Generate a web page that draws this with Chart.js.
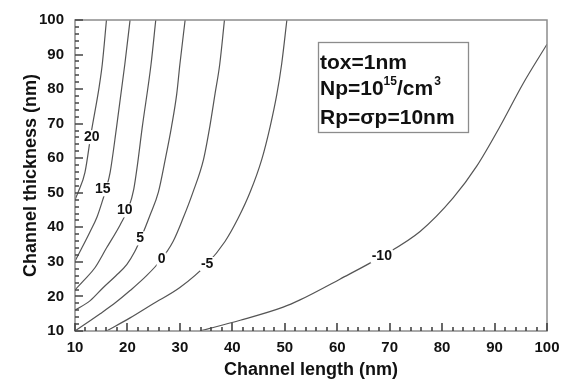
<!DOCTYPE html>
<html>
<head>
<meta charset="utf-8">
<script src="https://cdn.jsdelivr.net/npm/chart.js@4.4.1/dist/chart.umd.min.js"></script>
<style>
  html, body { margin: 0; padding: 0; background: #fff; }
  #wrap { width: 570px; height: 385px; }
</style>
</head>
<body>
<div id="wrap"><canvas id="chart" width="570" height="385"></canvas></div>
<script>
  // axis ticks
  const xTickValues = [10, 20, 30, 40, 50, 60, 70, 80, 90, 100];
  const yTickValues = [10, 20, 30, 40, 50, 60, 70, 80, 90, 100];

  // contour lines, [channel length, channel thickness]
  const contour20 = [[10, 48], [10.6, 50.2], [11.9, 55.9], [13.1, 67.5], [14.6, 80.6], [15.2, 87.2], [16.0, 100]];
  const contour15 = [[10, 30.2], [11.3, 34], [12.8, 38.5], [14.2, 43], [15.3, 48], [16.0, 51.5], [16.7, 55.9], [17.9, 68.7], [19.5, 87.2], [20.5, 100]];
  const contour10 = [[10, 21.9], [11.6, 24.5], [13.8, 28.3], [16.0, 34], [18.6, 40.7], [20.3, 46], [21.2, 51], [21.9, 58], [22.8, 68.7], [24.5, 87.2], [25.4, 100]];
  const contour5 = [[10, 16], [12.9, 18.8], [15.4, 22.6], [17.8, 26], [19.9, 29.3], [21.4, 33], [22.6, 37], [24.3, 43.5], [25.9, 50.2], [27.2, 59.6], [28.4, 69.1], [29.4, 78.6], [30.0, 87.2], [31.0, 100]];
  const contour0 = [[10, 10], [14.8, 15], [17.8, 18.3], [20.5, 21.7], [23.5, 25.8], [26.3, 30.4], [28.7, 35.9], [30.6, 42.6], [32.5, 50.2], [34.5, 59.6], [35.7, 69.1], [36.7, 78.6], [37.6, 87.2], [38.5, 100]];
  const contourM5 = [[16, 10], [20.5, 13.8], [24.9, 17.9], [30, 22.6], [35.1, 29.3], [38.6, 35.9], [41.1, 42.6], [43.4, 50.2], [45.6, 59.6], [47.2, 69.1], [48.5, 78.6], [49.4, 87.2], [50.4, 100]];
  const contourM10 = [[33.8, 10], [41.5, 13.1], [49.7, 16.9], [52.9, 19.0], [60.5, 25.0], [68.5, 31.6], [75.8, 38.8], [82.1, 48.5], [86.6, 57.7], [91.0, 69.1], [95.4, 81.5], [100, 93]];

  // contour level labels and where they sit on the lines
  const levelNames = ['20', '15', '10', '5', '0', '-5', '-10'];
  const levelLabelX = [13.2, 15.3, 19.5, 22.4, 26.5, 35.2, 68.5];
  const levelLabelY = [66.1, 51.0, 44.9, 36.8, 30.7, 29.4, 31.6];

  const contours = [contour20, contour15, contour10, contour5, contour0, contourM5, contourM10];

  const FONT = '"Liberation Sans", Arial, sans-serif';
  const LINE = '#555555';
  const FRAME = '#8c8c8c';

  // frame + inward tick marks (left and bottom only)
  const framePlugin = {
    id: 'frame',
    afterDraw(chart) {
      const { ctx, chartArea: a } = chart;
      const xs = chart.scales.x, ys = chart.scales.y;
      ctx.save();
      ctx.strokeStyle = FRAME;
      ctx.lineWidth = 1.5;
      ctx.strokeRect(a.left, a.top, a.right - a.left, a.bottom - a.top);
      ctx.strokeStyle = '#444444';
      ctx.lineWidth = 1.6;
      for (let v = 10; v <= 100; v += 2) {
        const len = v % 10 === 0 ? 8 : 4;
        const px = Math.round(xs.getPixelForValue(v));
        const py = Math.round(ys.getPixelForValue(v));
        ctx.beginPath();
        ctx.moveTo(px, a.bottom);
        ctx.lineTo(px, a.bottom - len);
        ctx.moveTo(a.left, py);
        ctx.lineTo(a.left + len, py);
        ctx.stroke();
      }
      ctx.restore();
    }
  };

  // level numbers written on the contour lines
  const levelLabelPlugin = {
    id: 'levelLabels',
    afterDatasetsDraw(chart) {
      const { ctx, scales } = chart;
      ctx.save();
      ctx.font = 'bold 14px ' + FONT;
      ctx.textAlign = 'center';
      ctx.textBaseline = 'middle';
      levelNames.forEach((name, i) => {
        const px = scales.x.getPixelForValue(levelLabelX[i]);
        const py = scales.y.getPixelForValue(levelLabelY[i]);
        const w = ctx.measureText(name).width;
        ctx.fillStyle = '#fff';
        ctx.fillRect(px - w / 2 - 1, py - 7, w + 2, 14);
        ctx.fillStyle = '#111';
        ctx.fillText(name, px, py);
      });
      ctx.restore();
    }
  };

  // parameter box in the upper right
  const infoBoxPlugin = {
    id: 'infoBox',
    afterDraw(chart) {
      const { ctx, chartArea: a } = chart;
      const bx = a.left + 243, by = a.top + 22, bw = 150, bh = 90;
      ctx.save();
      ctx.fillStyle = '#fff';
      ctx.fillRect(bx, by, bw, bh);
      ctx.strokeStyle = FRAME;
      ctx.lineWidth = 1.3;
      ctx.strokeRect(bx + 0.5, by + 0.5, bw, bh);
      ctx.fillStyle = '#111';
      ctx.textBaseline = 'alphabetic';
      ctx.textAlign = 'left';
      const big = 'bold 21px ' + FONT;
      const small = 'bold 12px ' + FONT;
      const tx = bx + 2;
      ctx.font = big;
      ctx.fillText('tox=1nm', tx, by + 27);
      // Np line with superscripts
      let x = tx;
      const y2 = by + 53;
      ctx.fillText('Np=10', x, y2);
      x += ctx.measureText('Np=10').width;
      ctx.font = small;
      ctx.fillText('15', x, y2 - 10);
      x += ctx.measureText('15').width;
      ctx.font = big;
      ctx.fillText('/cm', x, y2);
      x += ctx.measureText('/cm').width;
      ctx.font = small;
      ctx.fillText('3', x + 1, y2 - 10);
      ctx.font = big;
      ctx.fillText('Rp=\u03c3p=10nm', tx, by + 82);
      ctx.restore();
    }
  };

  const datasets = contours.map((pts, i) => ({
    label: levelNames[i],
    data: pts.map(p => ({ x: p[0], y: p[1] })),
    showLine: true,
    borderColor: LINE,
    borderWidth: 1.2,
    pointRadius: 0,
    cubicInterpolationMode: 'monotone',
    fill: false
  }));

  new Chart(document.getElementById('chart'), {
    type: 'scatter',
    data: { datasets },
    options: {
      responsive: false,
      animation: false,
      layout: { padding: { left: 0, top: 15, right: 23, bottom: 0 } },
      plugins: { legend: { display: false }, tooltip: { enabled: false } },
      scales: {
        x: {
          type: 'linear',
          min: 10, max: 100,
          afterBuildTicks: s => { s.ticks = xTickValues.map(v => ({ value: v })); },
          afterFit: s => { s.height = 54; },
          grid: { display: false, drawTicks: false },
          border: { display: false },
          ticks: { color: '#111', padding: 8, maxRotation: 0, font: { family: FONT, size: 15, weight: 'bold' } },
          title: { display: true, text: 'Channel length (nm)', color: '#111', padding: { top: 0, bottom: 4 }, font: { family: FONT, size: 18, weight: 'bold' } }
        },
        y: {
          type: 'linear',
          min: 10, max: 100,
          afterBuildTicks: s => { s.ticks = yTickValues.map(v => ({ value: v })); },
          afterFit: s => { s.width = 75; },
          grid: { display: false, drawTicks: false },
          border: { display: false },
          ticks: { color: '#111', padding: 11, font: { family: FONT, size: 15, weight: 'bold' } },
          title: { display: true, text: 'Channel thickness (nm)', color: '#111', padding: { top: 20, bottom: 0 }, font: { family: FONT, size: 18, weight: 'bold' } }
        }
      }
    },
    plugins: [framePlugin, levelLabelPlugin, infoBoxPlugin]
  });
</script>
</body>
</html>
